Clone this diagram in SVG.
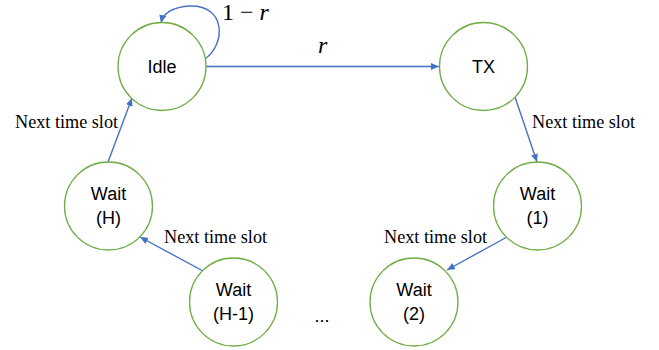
<svg xmlns="http://www.w3.org/2000/svg" width="659" height="350" viewBox="0 0 659 350">
  <defs>
    <marker id="arrow" viewBox="0 0 8 7" refX="8" refY="3.5" markerWidth="8" markerHeight="7" markerUnits="userSpaceOnUse" orient="auto">
      <path d="M0,0 L8,3.5 L0,7 z" fill="#4472C4"/>
    </marker>
  </defs>
  <style>
    .state { fill: #FFFFFF; stroke: #70AD47; stroke-width: 1.3; }
    .name { font-family: "Liberation Sans", Arial, sans-serif; font-size: 18px; fill: #000000; text-anchor: middle; }
    .edge { fill: none; stroke: #4472C4; stroke-width: 1.4; marker-end: url(#arrow); }
    .label { font-family: "Liberation Serif", "Times New Roman", serif; font-size: 18.2px; fill: #000000; }
    .math { font-family: "Liberation Serif", "Times New Roman", serif; font-size: 24px; fill: #000000; }
  </style>
  <rect width="659" height="350" fill="#FFFFFF"/>

  <g id="connectors">
    <path class="edge" d="M205,59 C226,44 226,5 190,6 C172,7 163,14 161,23"/>
    <path class="edge" d="M206,66.5 L439,66.5"/>
    <path class="edge" d="M515,97 L537,162"/>
    <path class="edge" d="M507,237 L447,270"/>
    <path class="edge" d="M203,271 L140,237"/>
    <path class="edge" d="M108,162 L132,98"/>
    <text class="math" x="222" y="20">1 − <tspan font-style="italic">r</tspan></text>
    <text class="math" x="318" y="53" font-style="italic">r</text>
    <text class="label" x="532" y="128">Next time slot</text>
    <text class="label" x="384" y="243">Next time slot</text>
    <text class="label" x="164" y="243">Next time slot</text>
    <text class="label" x="15" y="128">Next time slot</text>
  </g>

  <g id="idle">
    <circle class="state" cx="162" cy="66.5" r="44"/>
    <text class="name" x="162" y="73">Idle</text>
  </g>
  <g id="tx">
    <circle class="state" cx="483.5" cy="66.5" r="44"/>
    <text class="name" x="483.5" y="73">TX</text>
  </g>
  <g id="wait-1">
    <circle class="state" cx="537.5" cy="206" r="44"/>
    <text class="name" x="537.5" y="200">Wait</text>
    <text class="name" x="537.5" y="224">(1)</text>
  </g>
  <g id="wait-2">
    <circle class="state" cx="414" cy="302" r="44"/>
    <text class="name" x="414" y="296">Wait</text>
    <text class="name" x="414" y="320">(2)</text>
  </g>
  <g id="wait-h-1">
    <circle class="state" cx="233.5" cy="302" r="44"/>
    <text class="name" x="233.5" y="296">Wait</text>
    <text class="name" x="233.5" y="320">(H-1)</text>
  </g>
  <g id="wait-h">
    <circle class="state" cx="108.5" cy="206" r="44"/>
    <text class="name" x="108.5" y="200">Wait</text>
    <text class="name" x="108.5" y="224">(H)</text>
  </g>
  <g id="ellipsis">
    <text class="name" x="322" y="322">...</text>
  </g>
</svg>
